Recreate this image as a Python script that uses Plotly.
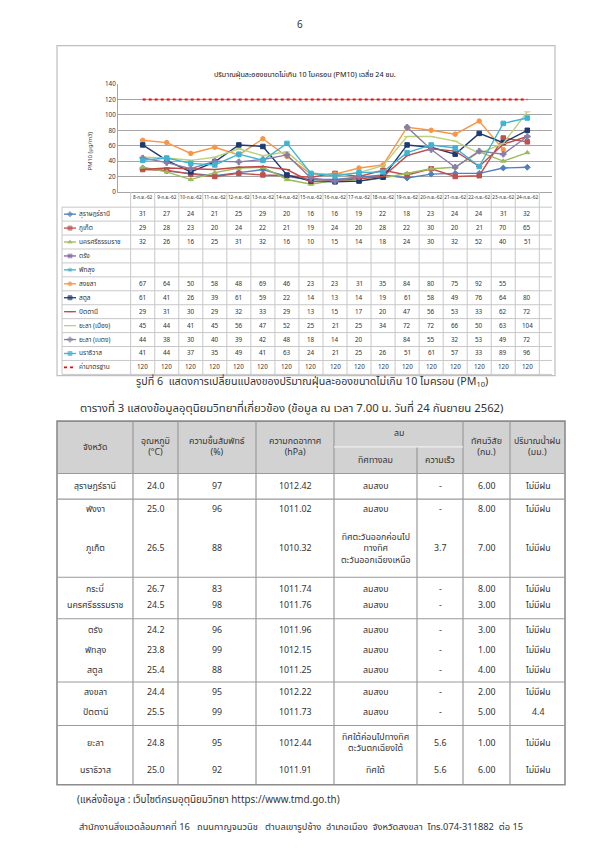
import plotly.graph_objects as go

W, H = 600, 848
OFF = 8  # the page body adds an 8px margin around the figure
FONT = "Tahoma, 'Noto Sans Thai', 'Leelawadee UI', 'Noto Sans', sans-serif"

def px(x):
    return (x - OFF) / W

def py(y):
    return 1 - (y - OFF) / H

# ---------------- chart data ----------------
dates = ["8-ก.ย.-62", "9-ก.ย.-62", "10-ก.ย.-62", "11-ก.ย.-62", "12-ก.ย.-62", "13-ก.ย.-62",
         "14-ก.ย.-62", "15-ก.ย.-62", "16-ก.ย.-62", "17-ก.ย.-62", "18-ก.ย.-62", "19-ก.ย.-62",
         "20-ก.ย.-62", "21-ก.ย.-62", "22-ก.ย.-62", "23-ก.ย.-62", "24-ก.ย.-62"]

surat = [31, 27, 24, 21, 25, 29, 20, 16, 16, 19, 22, 18, 23, 24, 24, 31, 32]
phuket = [29, 28, 23, 20, 24, 22, 21, 19, 24, 20, 28, 22, 30, 20, 21, 70, 65]
nakhon = [32, 26, 16, 25, 31, 32, 16, 10, 15, 14, 18, 24, 30, 32, 52, 40, 51]
trang = [None] * 17
phatthalung = [None] * 17
songkhla = [67, 64, 50, 58, 48, 69, 46, 23, 23, 31, 35, 84, 80, 75, 92, 55, None]
satun = [61, 41, 26, 39, 61, 59, 22, 14, 13, 14, 19, 61, 58, 49, 76, 64, 80]
pattani = [29, 31, 30, 29, 32, 33, 29, 13, 15, 17, 20, 47, 56, 53, 33, 62, 72]
yala_muang = [45, 44, 41, 45, 56, 47, 52, 25, 21, 25, 34, 72, 72, 66, 50, 63, 104]
yala_betong = [44, 38, 30, 40, 39, 42, 48, 18, 14, 20, None, 84, 55, 32, 53, 49, 72]
narathiwat = [41, 44, 37, 35, 49, 41, 63, 24, 21, 25, 26, 51, 61, 57, 33, 89, 96]
standard = [120] * 17

series_names = ["สุราษฎร์ธานี", "ภูเก็ต", "นครศรีธรรมราช", "ตรัง", "พัทลุง", "สงขลา", "สตูล",
                "ปัตตานี", "ยะลา (เมือง)", "ยะลา (เบตง)", "นราธิวาส", "ค่ามาตรฐาน"]
series_values = [surat, phuket, nakhon, trang, phatthalung, songkhla, satun,
                 pattani, yala_muang, yala_betong, narathiwat, standard]
series_colors = ["#4F81BD", "#C0504D", "#9BBB59", "#8064A2", "#4BACC6", "#F79646", "#1F3A70",
                 "#BE4B48", "#BCD07A", "#8A7CA8", "#3FB4D2", "#FF0000"]
series_symbols = ["diamond", "square", "triangle-up", "x", "asterisk-open", "circle", "square",
                  "line-ew", "line-ew", "cross", "square", "circle"]

chart_title = "ปริมาณฝุ่นละอองขนาดไม่เกิน 10 ไมครอน (PM10) เฉลี่ย 24 ชม."
y_title = "PM10 (µg/m3)"

# ---------------- weather table data ----------------
wt_headers = ["จังหวัด", "อุณหภูมิ<br>(°C)", "ความชื้นสัมพัทธ์<br>(%)", "ความกดอากาศ<br>(hPa)",
              "ทิศทางลม", "ความเร็ว", "ทัศนวิสัย<br>(กม.)", "ปริมาณน้ำฝน<br>(มม.)"]
wind_header = "ลม"
provinces = ["สุราษฎร์ธานี", "พังงา", "ภูเก็ต", "กระบี่", "นครศรีธรรมราช", "ตรัง", "พัทลุง", "สตูล",
             "สงขลา", "ปัตตานี", "ยะลา", "นราธิวาส"]
temps = ["24.0", "25.0", "26.5", "26.7", "24.5", "24.2", "23.8", "25.4", "24.4", "25.5", "24.8", "25.0"]
humid = ["97", "96", "88", "83", "98", "96", "99", "88", "95", "99", "95", "92"]
press = ["1012.42", "1011.02", "1010.32", "1011.74", "1011.76", "1011.96", "1012.15", "1011.25",
         "1012.22", "1011.73", "1012.44", "1011.91"]
wind_dir = ["ลมสงบ", "ลมสงบ", "ทิศตะวันออกค่อนไป<br>ทางทิศ<br>ตะวันออกเฉียงเหนือ", "ลมสงบ", "ลมสงบ",
            "ลมสงบ", "ลมสงบ", "ลมสงบ", "ลมสงบ", "ลมสงบ", "ทิศใต้ค่อนไปทางทิศ<br>ตะวันตกเฉียงใต้", "ทิศใต้"]
wind_speed = ["-", "-", "3.7", "-", "-", "-", "-", "-", "-", "-", "5.6", "5.6"]
visib = ["6.00", "8.00", "7.00", "8.00", "3.00", "3.00", "1.00", "4.00", "2.00", "5.00", "1.00", "6.00"]
rain = ["ไม่มีฝน", "ไม่มีฝน", "ไม่มีฝน", "ไม่มีฝน", "ไม่มีฝน", "ไม่มีฝน", "ไม่มีฝน", "ไม่มีฝน",
        "ไม่มีฝน", "4.4", "ไม่มีฝน", "ไม่มีฝน"]

page_no = "6"
caption = "รูปที่ 6  แสดงการเปลี่ยนแปลงของปริมาณฝุ่นละอองขนาดไม่เกิน 10 ไมครอน (PM<sub>10</sub>)"
table_title = "ตารางที่ 3 แสดงข้อมูลอุตุนิยมวิทยาที่เกี่ยวข้อง (ข้อมูล ณ เวลา 7.00 น. วันที่ 24 กันยายน 2562)"
source = "(แหล่งข้อมูล : เว็บไซต์กรมอุตุนิยมวิทยา https://www.tmd.go.th)"
footer = "สำนักงานสิ่งแวดล้อมภาคที่ 16   ถนนกาญจนวนิช   ตำบลเขารูปช้าง  อำเภอเมือง  จังหวัดสงขลา  โทร.074-311882  ต่อ 15"

# ---------------- layout geometry (page pixels) ----------------
PL, PR = 118.0, 552.0        # plot left/right
PT, PB = 80.0, 189.0         # plot top/bottom
ROW_H = 14.1
TBL_TOP_ROW = 204.5
TBL_LEFT = 62.0

fig = go.Figure()
shapes = []
ann = []


def text_ann(text, x, y, size, xanchor="center", xref="paper", color="#333333", **kw):
    d = dict(text=text, x=x, y=y, xref=xref, yref="paper", showarrow=False, xanchor=xanchor,
             yanchor="middle", align="center", font=dict(size=size, color=color, family=FONT))
    d.update(kw)
    return d


# chart box
shapes.append(dict(type="rect", xref="paper", yref="paper", x0=px(57), x1=px(555), y0=py(41), y1=py(375),
                   line=dict(color="#BFBFBF", width=1.2), layer="below"))

for name, vals, col, sym in zip(series_names, series_values, series_colors, series_symbols):
    if name == "ค่ามาตรฐาน":
        fig.add_trace(go.Scatter(x=dates, y=vals, mode="lines", name=name,
                                 line=dict(color=col, width=2, dash="dot"), xaxis="x", yaxis="y"))
    else:
        fig.add_trace(go.Scatter(x=dates, y=vals, mode="lines+markers", name=name,
                                 line=dict(color=col, width=1.4),
                                 marker=dict(symbol=sym, size=4.5, color=col, line=dict(color=col, width=1)),
                                 xaxis="x", yaxis="y"))

# data table under the chart
n_rows = len(series_names)
grid_col = "#C8C8C8"
tbl_bottom = TBL_TOP_ROW + ROW_H * n_rows
for r in range(n_rows + 1):
    yy = TBL_TOP_ROW + ROW_H * r
    shapes.append(dict(type="line", xref="paper", yref="paper", x0=px(TBL_LEFT), x1=px(PR),
                       y0=py(yy), y1=py(yy), line=dict(color=grid_col, width=1)))
shapes.append(dict(type="line", xref="paper", yref="paper", x0=px(TBL_LEFT), x1=px(TBL_LEFT),
                   y0=py(TBL_TOP_ROW), y1=py(tbl_bottom), line=dict(color=grid_col, width=1)))
for i in range(len(dates) + 1):
    shapes.append(dict(type="line", xref="x", yref="paper", x0=i - 0.5, x1=i - 0.5,
                       y0=py(PB), y1=py(tbl_bottom), line=dict(color=grid_col, width=1)))

for r, (name, vals, col, sym) in enumerate(zip(series_names, series_values, series_colors, series_symbols)):
    yc = TBL_TOP_ROW + ROW_H * r + ROW_H / 2
    ann.append(text_ann(name, px(77), py(yc), 6.5, xanchor="left"))
    # legend swatch
    if name == "ค่ามาตรฐาน":
        fig.add_trace(go.Scatter(x=[64, 76], y=[yc, yc], mode="lines", showlegend=False,
                                 line=dict(color=col, width=1.6, dash="dot"), xaxis="x2", yaxis="y2",
                                 hoverinfo="skip"))
    else:
        fig.add_trace(go.Scatter(x=[64, 70, 76], y=[yc, yc, yc], mode="lines+markers", showlegend=False,
                                 line=dict(color=col, width=1.3),
                                 marker=dict(symbol=sym, size=[0, 4, 0], color=col, line=dict(color=col, width=1)),
                                 xaxis="x2", yaxis="y2", hoverinfo="skip"))
    for i, v in enumerate(vals):
        if v is None:
            continue
        ann.append(text_ann(str(v), dates[i], py(yc), 6.3, xref="x"))

ann.append(text_ann(chart_title, px(305), py(70), 7.2, color="#111111"))
ann.append(text_ann(y_title, px(90), py(148), 5.8, textangle=-90))

# ---------------- page texts ----------------
ann.append(text_ann(page_no, px(300), py(20), 10))
ann.append(text_ann(caption, px(312), py(381), 10.7))
ann.append(text_ann(table_title, px(78), py(408), 11.3, xanchor="left"))
ann.append(text_ann(source, px(75), py(804), 9.9, xanchor="left"))
ann.append(text_ann(footer, px(77), py(832), 9.3, xanchor="left"))

# ---------------- weather table ----------------
cols = [57, 133, 178, 256, 334, 417, 463, 510, 565]
T_TOP, T_MID, T_HB, T_BOT = 421, 447, 474, 789
group_lines = [500, 579, 621, 685, 729]
row_y = [487, 510, 550, 591, 608, 633, 653, 673, 696, 716, 747, 775]
tline = "#9A9A9A"

shapes.append(dict(type="rect", xref="paper", yref="paper", x0=px(cols[0]), x1=px(cols[-1]),
                   y0=py(T_TOP), y1=py(T_HB), fillcolor="#D2D2D2", line=dict(width=0), layer="below"))
shapes.append(dict(type="rect", xref="paper", yref="paper", x0=px(cols[0]), x1=px(cols[-1]),
                   y0=py(T_TOP), y1=py(T_BOT), line=dict(color="#8C8C8C", width=1.6)))
for cx in cols[1:-1]:
    top = T_MID if cx == 417 else T_TOP
    shapes.append(dict(type="line", xref="paper", yref="paper", x0=px(cx), x1=px(cx),
                       y0=py(top), y1=py(T_BOT), line=dict(color=tline, width=1.2)))
shapes.append(dict(type="line", xref="paper", yref="paper", x0=px(334), x1=px(463),
                   y0=py(T_MID), y1=py(T_MID), line=dict(color="#EFEFEF", width=1.2)))
for gy in [T_HB] + group_lines:
    shapes.append(dict(type="line", xref="paper", yref="paper", x0=px(cols[0]), x1=px(cols[-1]),
                       y0=py(gy), y1=py(gy), line=dict(color=tline, width=1.2)))

centers = [(cols[i] + cols[i + 1]) / 2 for i in range(len(cols) - 1)]
for j, h in enumerate(wt_headers):
    if j in (4, 5):
        yc = (T_MID + T_HB) / 2
    else:
        yc = (T_TOP + T_HB) / 2
    ann.append(text_ann(h, px(centers[j]), py(yc), 8.8))
ann.append(text_ann(wind_header, px((334 + 463) / 2), py((T_TOP + T_MID) / 2), 8.8))

for r in range(len(provinces)):
    row = [provinces[r], temps[r], humid[r], press[r], wind_dir[r], wind_speed[r], visib[r], rain[r]]
    for j, t in enumerate(row):
        ann.append(text_ann(t, px(centers[j]), py(row_y[r]), 8.8))

fig.update_layout(
    width=W, height=H,
    margin=dict(l=0, r=0, t=0, b=0),
    paper_bgcolor="white", plot_bgcolor="rgba(0,0,0,0)",
    showlegend=False,
    font=dict(family=FONT),
    xaxis=dict(domain=[px(PL), px(PR)], type="category", showgrid=False, showline=True,
               linecolor="#A6A6A6", ticks="", tickangle=0,
               tickfont=dict(size=4.7, color="#333333", family=FONT),
               anchor="y", fixedrange=True),
    yaxis=dict(domain=[py(PB), py(PT)], range=[0, 140], dtick=20, showgrid=True, gridcolor="#A6A6A6",
               gridwidth=1, showline=True, linecolor="#A6A6A6", zeroline=False,
               tickfont=dict(size=6.3, color="#333333", family=FONT), anchor="x", fixedrange=True),
    xaxis2=dict(domain=[0, 1], range=[OFF, W + OFF], visible=False, anchor="y2", fixedrange=True),
    yaxis2=dict(domain=[0, 1], range=[H + OFF, OFF], visible=False, anchor="x2", fixedrange=True),
    shapes=shapes,
    annotations=ann,
)

fig.write_html("out.html")
